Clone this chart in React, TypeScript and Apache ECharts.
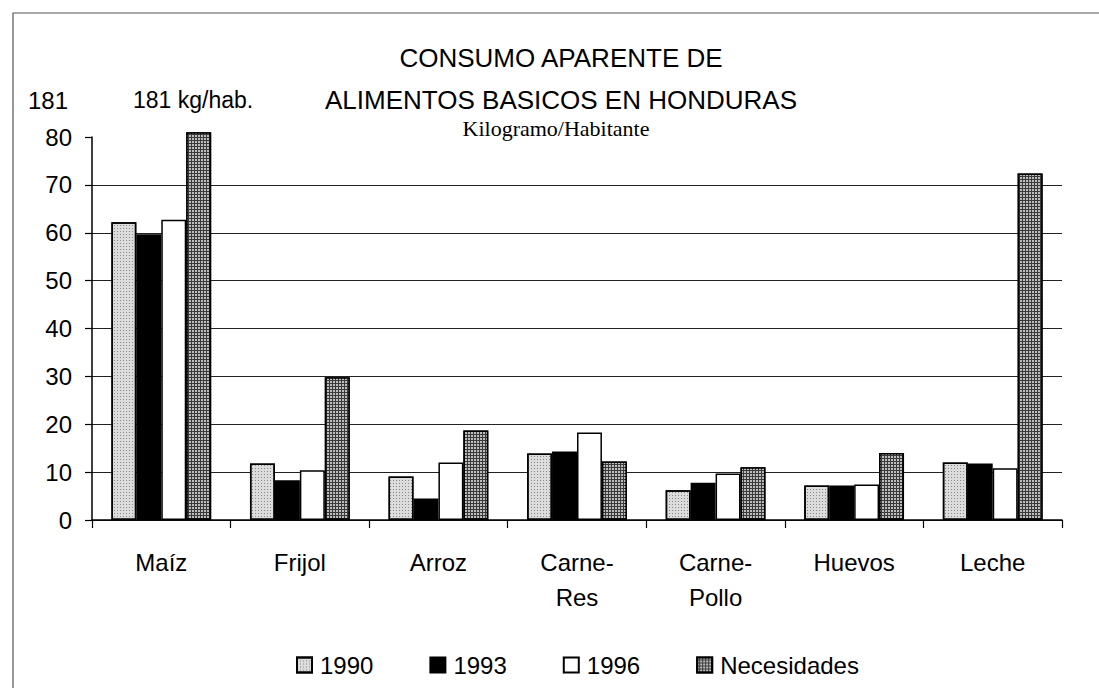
import React, { useEffect, useRef } from "react";
import * as echarts from "echarts";

// ---- data ----
const categories = ["Maíz", "Frijol", "Arroz", "Carne-Res", "Carne-Pollo", "Huevos", "Leche"];
const seriesNames = ["1990", "1993", "1996", "Necesidades"];
const s1990 = [62.2, 11.8, 9.1, 13.9, 6.2, 7.2, 12.0];
const s1993 = [59.7, 8.3, 4.5, 14.3, 7.8, 7.2, 11.8];
const s1996 = [62.7, 10.4, 12.0, 18.3, 9.7, 7.4, 10.8];
// Maíz need is 181 kg/hab.; the chart draws its bar broken just past the 80 line
const necesidades = [81, 29.8, 18.7, 12.2, 11.0, 14.0, 72.4];
const yMin = 0;
const yMax = 80;
const yInterval = 10;
const brokenTickLabel = "181";
const brokenNote = "181 kg/hab.";
const titleLines = ["CONSUMO APARENTE DE", "ALIMENTOS BASICOS EN HONDURAS"];
const subtitle = "Kilogramo/Habitante";

const SANS = "'Liberation Sans', Arial, Helvetica, sans-serif";
const SERIF = "'Liberation Serif', 'Times New Roman', serif";

export default function App() {
  const ref = useRef<HTMLDivElement | null>(null);

  useEffect(() => {
    if (!ref.current) return;
    const chart = echarts.init(ref.current, undefined, { renderer: "svg" });

    const border = { borderColor: "#000", borderWidth: 1.5 };
    const styles = [
      {
        color: "#dcdcdc",
        ...border,
        decal: {
          symbol: "rect",
          symbolSize: 1,
          color: "rgba(70,70,70,0.55)",
          dashArrayX: [1, 2],
          dashArrayY: [1, 2],
          rotation: 0,
        },
      },
      { color: "#000", ...border },
      { color: "#fff", ...border },
      {
        color: "#3a3a3a",
        ...border,
        decal: {
          symbol: "rect",
          symbolSize: 1,
          color: "#bdbdbd",
          dashArrayX: [2, 1],
          dashArrayY: [2, 1],
          rotation: 0,
        },
      },
    ];
    const values = [s1990, s1993, s1996, necesidades];

    chart.setOption({
      animation: false,
      backgroundColor: "#fff",
      textStyle: { fontFamily: SANS, color: "#000" },
      title: {
        text: titleLines.join("\n"),
        left: 556,
        top: 32,
        textAlign: "center",
        textStyle: {
          fontFamily: SANS,
          fontSize: 26,
          fontWeight: "normal",
          lineHeight: 42,
          color: "#000",
        },
      },
      legend: {
        data: seriesNames,
        left: 291,
        top: 648,
        icon: "rect",
        itemWidth: 15,
        itemHeight: 15,
        itemGap: 56,
        textStyle: { fontFamily: SANS, fontSize: 24, color: "#000", padding: [0, 0, 0, 3] },
      },
      grid: { left: 92, right: 37, top: 137, bottom: 168, containLabel: false },
      xAxis: {
        type: "category",
        data: categories,
        axisLine: { show: true, lineStyle: { color: "#000", width: 1.5 } },
        axisTick: { show: true, alignWithLabel: false, length: 8, lineStyle: { color: "#000", width: 1.2 } },
        axisLabel: {
          fontFamily: SANS,
          fontSize: 24,
          color: "#000",
          margin: 25,
          lineHeight: 35,
          interval: 0,
          formatter: (v: string) => v.replace("-", "-\n"),
        },
        splitLine: { show: false },
      },
      yAxis: {
        type: "value",
        min: yMin,
        max: yMax,
        interval: yInterval,
        axisLine: { show: true, lineStyle: { color: "#000", width: 1.5 } },
        axisTick: { show: true, length: 7, lineStyle: { color: "#000", width: 1.2 } },
        axisLabel: { fontFamily: SANS, fontSize: 24, color: "#000", margin: 20 },
        splitLine: { show: true, showMaxLine: false, lineStyle: { color: "#222", width: 1.2 } },
      },
      series: seriesNames.map((name, i) => ({
        name,
        type: "bar",
        data: values[i],
        clip: false,
        barGap: "0%",
        barCategoryGap: "28%",
        itemStyle: styles[i],
      })),
      graphic: [
        {
          type: "rect",
          silent: true,
          shape: { x: 13, y: 13, width: 1200, height: 800 },
          style: { fill: "none", stroke: "#555", lineWidth: 1.2 },
        },
        {
          type: "text",
          x: 68,
          y: 100,
          style: {
            text: brokenTickLabel,
            fontFamily: SANS,
            fontSize: 24,
            fill: "#000",
            textAlign: "right",
            textVerticalAlign: "middle",
          },
        },
        {
          type: "text",
          x: 133,
          y: 100,
          style: {
            text: brokenNote,
            fontFamily: SANS,
            fontSize: 23,
            fill: "#000",
            textAlign: "left",
            textVerticalAlign: "middle",
          },
        },
        {
          type: "text",
          x: 556,
          y: 128,
          style: {
            text: subtitle,
            fontFamily: SERIF,
            fontSize: 22,
            fill: "#000",
            textAlign: "center",
            textVerticalAlign: "middle",
          },
        },
      ],
    });

    return () => chart.dispose();
  }, []);

  return (
    <div
      ref={ref}
      style={{ position: "fixed", left: 0, top: 0, width: 1099, height: 688, background: "#fff" }}
    />
  );
}
